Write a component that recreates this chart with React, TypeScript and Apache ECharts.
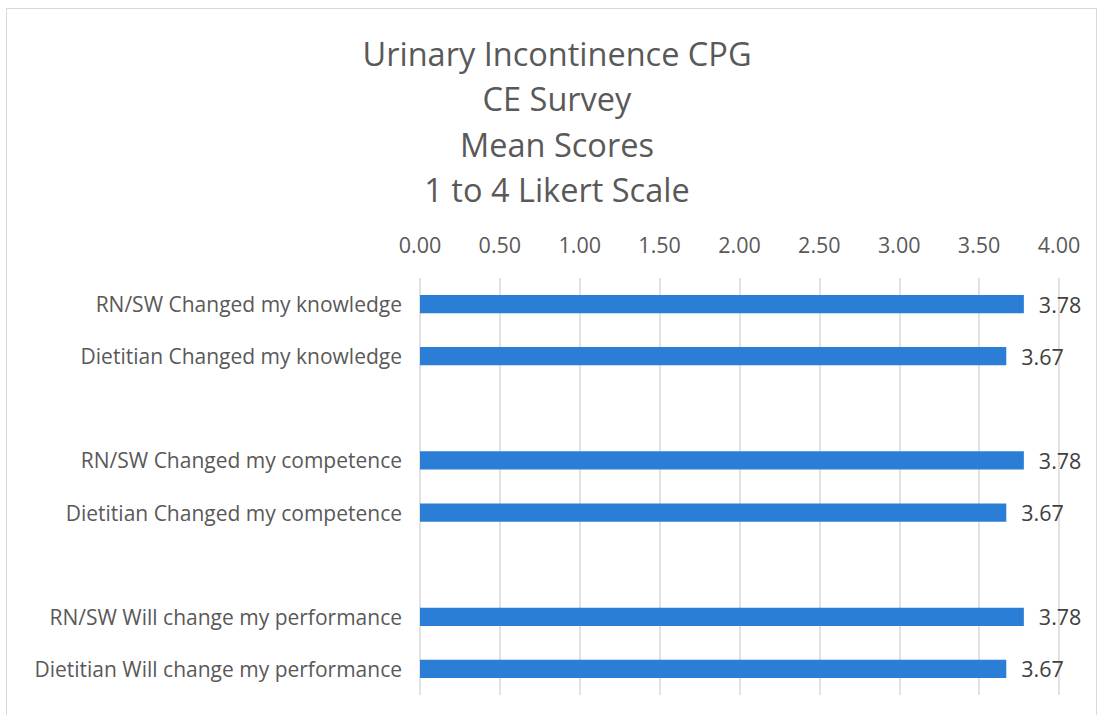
import React, { useEffect, useRef } from "react";
import * as echarts from "echarts";

const categories = [
  "RN/SW Changed my knowledge",
  "Dietitian Changed my knowledge",
  "",
  "RN/SW Changed my competence",
  "Dietitian Changed my competence",
  " ",
  "RN/SW Will change my performance",
  "Dietitian Will change my performance",
];
const values: (number | string)[] = [3.78, 3.67, "-", 3.78, 3.67, "-", 3.78, 3.67];
const titleLines = ["Urinary Incontinence CPG", "CE Survey", "Mean Scores", "1 to 4 Likert Scale"];

const FONT = "'Open Sans', sans-serif";

export default function App() {
  const ref = useRef<HTMLDivElement>(null);
  useEffect(() => {
    if (!ref.current) return;
    const chart = echarts.init(ref.current, undefined, { renderer: "svg" });
    chart.setOption({
      animation: false,
      backgroundColor: "#ffffff",
      textStyle: { fontFamily: FONT },
      title: {
        text: titleLines.join("\n"),
        left: 550,
        top: 22,
        padding: 0,
        textAlign: "center",
        textStyle: {
          fontFamily: FONT,
          fontSize: 32.5,
          fontWeight: "normal",
          color: "#595959",
          lineHeight: 45.3,
        },
      },
      grid: { left: 413, top: 269, width: 639, height: 417, containLabel: false },
      xAxis: {
        type: "value",
        position: "top",
        min: 0,
        max: 4,
        interval: 0.5,
        axisLine: { show: false },
        axisTick: { show: false },
        axisLabel: {
          formatter: (v: number) => v.toFixed(2),
          fontFamily: FONT,
          fontSize: 21.5,
          color: "#595959",
          margin: 23,
        },
        splitLine: { show: true, lineStyle: { color: "#d9d9d9", width: 1.5 } },
      },
      yAxis: {
        type: "category",
        inverse: true,
        data: categories,
        axisLine: { show: false },
        axisTick: { show: false },
        axisLabel: {
          fontFamily: FONT,
          fontSize: 21,
          color: "#595959",
          margin: 18,
        },
      },
      series: [
        {
          type: "bar",
          data: values,
          barWidth: "35%",
          itemStyle: { color: "#2a7ed6" },
          label: {
            show: true,
            position: "right",
            distance: 15,
            formatter: (p: any) => Number(p.value).toFixed(2),
            fontFamily: FONT,
            fontSize: 21.5,
            color: "#404040",
          },
        },
      ],
    });
    return () => chart.dispose();
  }, []);
  return (
    <div
      style={{
        position: "absolute",
        left: 6,
        top: 8,
        width: 1091,
        height: 720,
        border: "1.5px solid #d9d9d9",
        boxSizing: "border-box",
        background: "#fff",
      }}
    >
      <div ref={ref} style={{ width: "100%", height: "100%" }} />
    </div>
  );
}
